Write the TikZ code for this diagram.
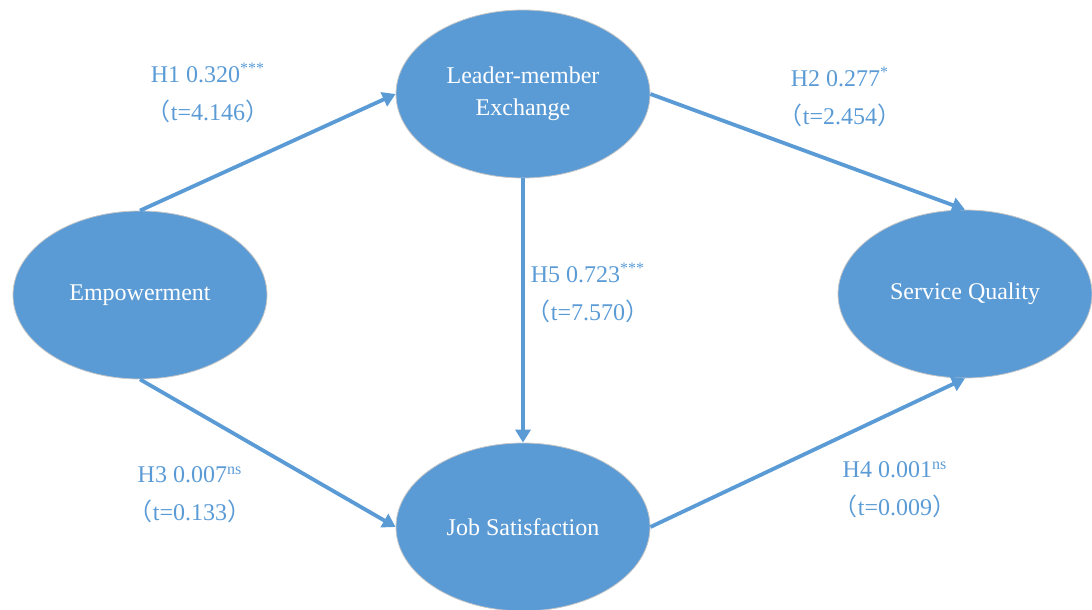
\documentclass[tikz,border=0pt]{standalone}
\usepackage{fontspec}
\setmainfont{Liberation Serif}
\newfontfamily\cjk{Noto Sans CJK SC}
\usepackage{xcolor}
\usetikzlibrary{arrows.meta,positioning,shapes.geometric}
\definecolor{pathblue}{RGB}{91,155,213}

\begin{document}
\begin{tikzpicture}[x=0.5pt,y=-0.5pt,font=\fontsize{12}{15}\selectfont,
  construct/.style={ellipse,fill=pathblue,draw=gray!45,line width=0.4pt,text=white,
    minimum width=127pt,minimum height=84pt,inner sep=0pt,align=center},
  path arrow/.style={draw=pathblue,line width=1.9pt,-{Triangle[width=7.5pt,length=6.5pt]}},
  coef/.style={text=pathblue,align=center,inner sep=0pt}]
\useasboundingbox (0,0) rectangle (1092,610);
% constructs
\node[construct] (emp) at (140,295) {Empowerment};
\node[construct] (lmx) at (523,94) {Leader-member\\[1pt]Exchange};
\node[construct] (js) at (523,527) {Job Satisfaction};
\node[construct] (sq) at (965,294) {Service Quality};
% paths
\draw[path arrow] (emp.north) -- (lmx.west);
\draw[path arrow] (lmx.east) -- (sq.north);
\draw[path arrow] (lmx.south) -- (js.north);
\draw[path arrow] (emp.south) -- (js.west);
\draw[path arrow] (js.east) -- (sq.south);
% coefficients
\node[coef] (h1) at (208,93) {H1 0.320\textsuperscript{***}\\[4pt]{\cjk （}t=4.146{\cjk ）}};
\node[coef] (h2) at (840,97) {H2 0.277\textsuperscript{*}\\[4pt]{\cjk （}t=2.454{\cjk ）}};
\node[coef] (h5) at (588,293) {H5 0.723\textsuperscript{***}\\[4pt]{\cjk （}t=7.570{\cjk ）}};
\node[coef] (h3) at (190,495) {H3 0.007\textsuperscript{ns}\\[4pt]{\cjk （}t=0.133{\cjk ）}};
\node[coef] (h4) at (895,490) {H4 0.001\textsuperscript{ns}\\[4pt]{\cjk （}t=0.009{\cjk ）}};
\end{tikzpicture}
\end{document}
